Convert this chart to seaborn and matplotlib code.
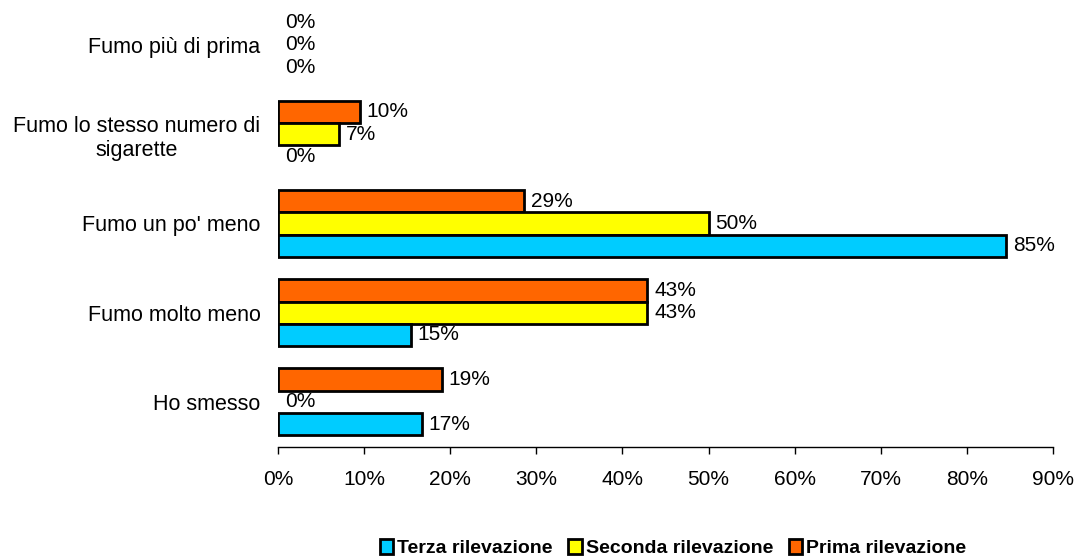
import pandas as pd
import seaborn as sns
import matplotlib.pyplot as plt
from matplotlib.ticker import FuncFormatter

categorie = ['Fumo più di prima', 'Fumo lo stesso numero di\nsigarette',
             "Fumo un po' meno", 'Fumo molto meno', 'Ho smesso']
serie = ['Prima rilevazione', 'Seconda rilevazione', 'Terza rilevazione']
prima = [0, 9.5, 28.6, 42.9, 19.0]
seconda = [0, 7.1, 50.0, 42.9, 0]
terza = [0, 0, 84.6, 15.4, 16.7]
colori = ['#FF6600', '#FFFF00', '#00CCFF']

righe = []
for nome, valori in zip(serie, [prima, seconda, terza]):
    for cat, v in zip(categorie, valori):
        righe.append((cat, nome, v))
df = pd.DataFrame(righe, columns=['categoria', 'rilevazione', 'valore'])

sns.set_style('white')
plt.rcParams['font.family'] = ['Liberation Sans', 'DejaVu Sans']
plt.rcParams['text.color'] = 'black'
plt.rcParams['xtick.color'] = 'black'
plt.rcParams['ytick.color'] = 'black'

fig = plt.figure(figsize=(10.77, 5.59), dpi=100)
ax = fig.add_axes([0.2581, 0.2011, 0.7196, 0.7985])

sns.barplot(data=df, y='categoria', x='valore', hue='rilevazione',
            hue_order=serie, order=categorie, palette=colori,
            width=0.75, edgecolor='black', linewidth=2, saturation=1,
            orient='y', ax=ax, legend=False)

for cont in ax.containers:
    for b in cont:
        if b.get_width() == 0:
            b.set_linewidth(0)
    etichette = [f'{round(b.get_width()):.0f}%' for b in cont]
    ax.bar_label(cont, labels=etichette, padding=5, fontsize=15, color='black')

ax.set_xlim(0, 90)
ax.set_ylim(4.5, -0.5)
ax.set_xticks(range(0, 91, 10))
ax.xaxis.set_major_formatter(FuncFormatter(lambda v, p: f'{v:.0f}%'))
ax.set_xlabel('')
ax.set_ylabel('')
for s in ['top', 'right', 'left']:
    ax.spines[s].set_visible(False)
ax.spines['bottom'].set_color('black')
ax.spines['bottom'].set_linewidth(1)
ax.tick_params(axis='x', bottom=True, direction='out', length=5, width=1,
               color='black', labelcolor='black', labelsize=15, pad=12)
ax.tick_params(axis='y', left=False, labelcolor='black', labelsize=15.5, pad=9)
for t in ax.get_yticklabels():
    t.set_multialignment('center')

handles = list(ax.containers)
leg_handles = [handles[2].patches[2], handles[1].patches[2], handles[0].patches[2]]
fig.legend(leg_handles, [serie[2], serie[1], serie[0]], loc='center',
           bbox_to_anchor=(0.625, 0.02), ncol=3, frameon=False,
           prop={'family': ['Liberation Sans Narrow', 'Liberation Sans'],
                 'weight': 'bold', 'size': 14},
           handlelength=0.7, handleheight=0.8, handletextpad=0.2,
           columnspacing=0.8)

fig.savefig('out.png', dpi=100)
